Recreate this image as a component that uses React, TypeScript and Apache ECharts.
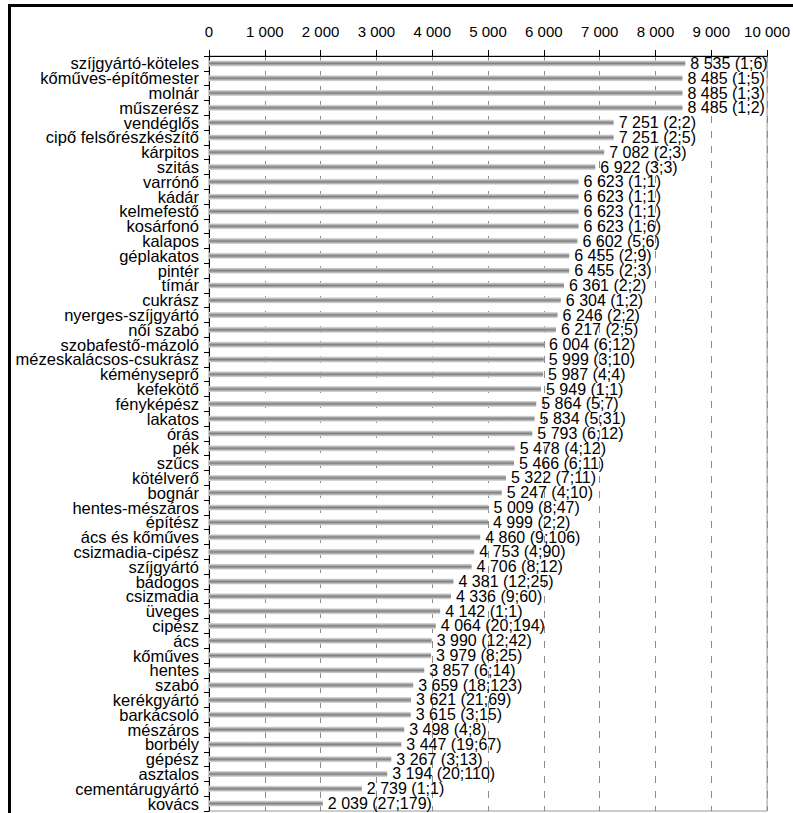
import React, { useEffect, useRef } from "react";
import * as echarts from "echarts";

const categories = [
  "szíjgyártó-köteles", "kőműves-építőmester", "molnár", "műszerész", "vendéglős",
  "cipő felsőrészkészítő", "kárpitos", "szitás", "varrónő", "kádár",
  "kelmefestő", "kosárfonó", "kalapos", "géplakatos", "pintér",
  "tímár", "cukrász", "nyerges-szíjgyártó", "női szabó", "szobafestő-mázoló",
  "mézeskalácsos-csukrász", "kéményseprő", "kefekötő", "fényképész", "lakatos",
  "órás", "pék", "szűcs", "kötélverő", "bognár",
  "hentes-mészáros", "építész", "ács és kőműves", "csizmadia-cipész", "szíjgyártó",
  "bádogos", "csizmadia", "üveges", "cipész", "ács",
  "kőműves", "hentes", "szabó", "kerékgyártó", "barkácsoló",
  "mészáros", "borbély", "gépész", "asztalos", "cementárugyártó", "kovács",
];

const values = [
  8535, 8485, 8485, 8485, 7251, 7251, 7082, 6922, 6623, 6623,
  6623, 6623, 6602, 6455, 6455, 6361, 6304, 6246, 6217, 6004,
  5999, 5987, 5949, 5864, 5834, 5793, 5478, 5466, 5322, 5247,
  5009, 4999, 4860, 4753, 4706, 4381, 4336, 4142, 4064, 3990,
  3979, 3857, 3659, 3621, 3615, 3498, 3447, 3267, 3194, 2739, 2039,
];

const firstCounts = [
  1, 1, 1, 1, 2, 2, 2, 3, 1, 1,
  1, 1, 5, 2, 2, 2, 1, 2, 2, 6,
  3, 4, 1, 5, 5, 6, 4, 6, 7, 4,
  8, 2, 9, 4, 8, 12, 9, 1, 20, 12,
  8, 6, 18, 21, 3, 4, 19, 3, 20, 1, 27,
];

const secondCounts = [
  6, 5, 3, 2, 2, 5, 3, 3, 1, 1,
  1, 6, 6, 9, 3, 2, 2, 2, 5, 12,
  10, 4, 1, 7, 31, 12, 12, 11, 11, 10,
  47, 2, 106, 90, 12, 25, 60, 1, 194, 42,
  25, 14, 123, 69, 15, 8, 67, 13, 110, 1, 179,
];

const axisMin = 0;
const axisMax = 10000;
const axisStep = 1000;

const fmt = (v: number) => String(v).replace(/\B(?=(\d{3})+(?!\d))/g, " ");

const FONT = "'Liberation Sans', Arial, sans-serif";

export default function App() {
  const ref = useRef<HTMLDivElement>(null);

  useEffect(() => {
    if (!ref.current) return;
    const chart = echarts.init(ref.current, undefined, { renderer: "svg" });
    chart.setOption({
      animation: false,
      backgroundColor: "#ffffff",
      grid: {
        left: 209,
        right: 23,
        top: 56,
        bottom: 2,
        show: true,
        borderColor: "#9a9a9a",
        borderWidth: 1,
        backgroundColor: "transparent",
      },
      graphic: [
        {
          type: "rect",
          left: 8,
          top: 4,
          shape: { width: 3, height: 809 },
          style: { fill: "#000000" },
          z: 100,
          silent: true,
        },
        {
          type: "rect",
          left: 8,
          top: 4,
          shape: { width: 785, height: 3 },
          style: { fill: "#000000" },
          z: 100,
          silent: true,
        },
      ],
      xAxis: {
        type: "value",
        position: "top",
        min: axisMin,
        max: axisMax,
        interval: axisStep,
        axisLine: { show: true, lineStyle: { color: "#000000", width: 1 } },
        axisTick: { show: true, length: 6, lineStyle: { color: "#000000" } },
        axisLabel: {
          color: "#000000",
          fontFamily: FONT,
          fontSize: 15,
          margin: 17,
          formatter: (v: number) => fmt(v),
        },
        splitLine: {
          show: true,
          lineStyle: { color: "#8c8c8c", type: [7, 8], width: 1 },
        },
      },
      yAxis: {
        type: "category",
        data: categories,
        inverse: true,
        axisLine: { show: true, lineStyle: { color: "#000000", width: 1 } },
        axisTick: { show: true, length: 5, lineStyle: { color: "#000000" } },
        axisLabel: {
          interval: 0,
          color: "#000000",
          fontFamily: FONT,
          fontSize: 16.5,
          lineHeight: 14,
          margin: 10,
        },
        splitLine: { show: false },
      },
      series: [
        {
          type: "bar",
          data: values,
          barWidth: 6,
          itemStyle: {
            color: new echarts.graphic.LinearGradient(0, 0, 0, 1, [
              { offset: 0, color: "#e2e2e2" },
              { offset: 0.5, color: "#7f7f7f" },
              { offset: 1, color: "#e2e2e2" },
            ]),
          },
          label: {
            show: true,
            position: "right",
            distance: 5,
            color: "#000000",
            fontFamily: FONT,
            fontSize: 16,
            lineHeight: 14,
            formatter: (p: any) =>
              `${fmt(p.value)} (${firstCounts[p.dataIndex]};${secondCounts[p.dataIndex]})`,
          },
        },
      ],
    });
    return () => chart.dispose();
  }, []);

  return (
    <div
      ref={ref}
      style={{ position: "absolute", left: 0, top: 0, width: 793, height: 813 }}
    />
  );
}
